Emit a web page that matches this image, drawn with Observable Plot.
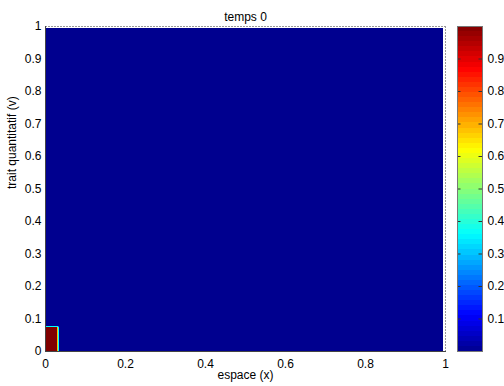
<!DOCTYPE html>
<html>
<head>
<meta charset="utf-8">
<script src="https://cdn.jsdelivr.net/npm/d3@7"></script>
<script src="https://cdn.jsdelivr.net/npm/@observablehq/plot@0.6"></script>
<style>
  html, body { margin: 0; padding: 0; background: #fff; }
  #wrap { position: relative; width: 504px; height: 386px; overflow: hidden; font-family: "Liberation Sans", Arial, sans-serif; }
  #wrap svg { position: absolute; top: 0; background: transparent; }
</style>
</head>
<body>
<div id="wrap"></div>
<script>
// ---- data ----
const titleText = "temps 0";
const xLabel = "espace (x)";
const yLabel = "trait quantitatif (v)";
const xTicks = [0, 0.2, 0.4, 0.6, 0.8, 1];
const yTicks = [0, 0.1, 0.2, 0.3, 0.4, 0.5, 0.6, 0.7, 0.8, 0.9, 1];
const cbTicks = [0.1, 0.2, 0.3, 0.4, 0.5, 0.6, 0.7, 0.8, 0.9];
// cell edges of the field (x, v) and the field values per cell (rows = v bands)
const xEdges = [0, 0.031, 0.0335, 0.036, 0.995];
const vEdges = [0, 0.073, 0.0765, 0.995];
const values = [
  [1, 0.68, 0.36, 0],
  [0.36, 0.36, 0.2, 0],
  [0, 0, 0, 0]
];
// jet colormap
const jetStops = [0, 0.11, 0.36, 0.62, 0.87, 1];
const jetColors = ["#00008f", "#0000ff", "#00ffff", "#ffff00", "#ff0000", "#800000"];

const cells = [];
values.forEach((row, i) => row.forEach((val, j) => {
  cells.push({x1: xEdges[j], x2: xEdges[j + 1], y1: vEdges[i], y2: vEdges[i + 1], value: val});
}));

const colorScale = {type: "linear", domain: jetStops, range: jetColors, interpolate: "rgb"};
const font = "Liberation Sans, Arial, sans-serif";

const main = Plot.plot({
  width: 450, height: 386,
  marginLeft: 45, marginRight: 5, marginTop: 26, marginBottom: 35,
  style: {fontFamily: font, fontSize: "12px", background: "transparent"},
  x: {domain: [0, 1]},
  y: {domain: [0, 1]},
  color: colorScale,
  marks: [
    Plot.rect(cells, {x1: "x1", x2: "x2", y1: "y1", y2: "y2", fill: "value", shapeRendering: "crispEdges"}),
    Plot.axisX({ticks: xTicks, tickFormat: d => String(d), tickSize: 0, tickPadding: 8, label: null, fontSize: 12, fill: "#000"}),
    Plot.axisY({ticks: yTicks, tickFormat: d => String(d), tickSize: 0, tickPadding: 4, label: null, fontSize: 12, fill: "#000"}),
    Plot.frame({anchor: "top", stroke: "#999", strokeDasharray: "1,2"}),
    Plot.frame({anchor: "right", stroke: "#999", strokeDasharray: "1,2"}),
    Plot.frame({anchor: "left", stroke: "#444"}),
    Plot.frame({anchor: "bottom", stroke: "#444"}),
    Plot.text([titleText], {frameAnchor: "top", dy: -14, fontSize: 12, fill: "#000"}),
    Plot.text([xLabel], {frameAnchor: "bottom", dy: 27, fontSize: 12, fill: "#000"}),
    Plot.text([yLabel], {frameAnchor: "left", rotate: -90, dx: -33, fontSize: 12, fill: "#000"})
  ]
});
main.style.left = "0px";

const nBands = 64;
const bands = d3.range(nBands).map(i => ({y1: i / nBands, y2: (i + 1) / nBands, value: (i + 0.5) / nBands}));

const cb = Plot.plot({
  width: 54, height: 386,
  marginLeft: 7, marginRight: 22, marginTop: 26, marginBottom: 35,
  style: {fontFamily: font, fontSize: "12px", background: "transparent", overflow: "visible"},
  x: {domain: [0, 1], axis: null},
  y: {domain: [0, 1]},
  color: colorScale,
  marks: [
    Plot.rect(bands, {x1: 0, x2: 1, y1: "y1", y2: "y2", fill: "value", shapeRendering: "crispEdges"}),
    Plot.ruleY(cbTicks, {x1: 0, x2: 0.14, stroke: "#333"}),
    Plot.ruleY(cbTicks, {x1: 0.86, x2: 1, stroke: "#333"}),
    Plot.frame({stroke: "#777"}),
    Plot.axisY({anchor: "right", ticks: cbTicks, tickFormat: d => String(d), tickSize: 0, tickPadding: 5, label: null, fontSize: 12, fill: "#000"})
  ]
});
cb.style.left = "450px";

const wrap = document.getElementById("wrap");
wrap.appendChild(main);
wrap.appendChild(cb);
</script>
</body>
</html>
